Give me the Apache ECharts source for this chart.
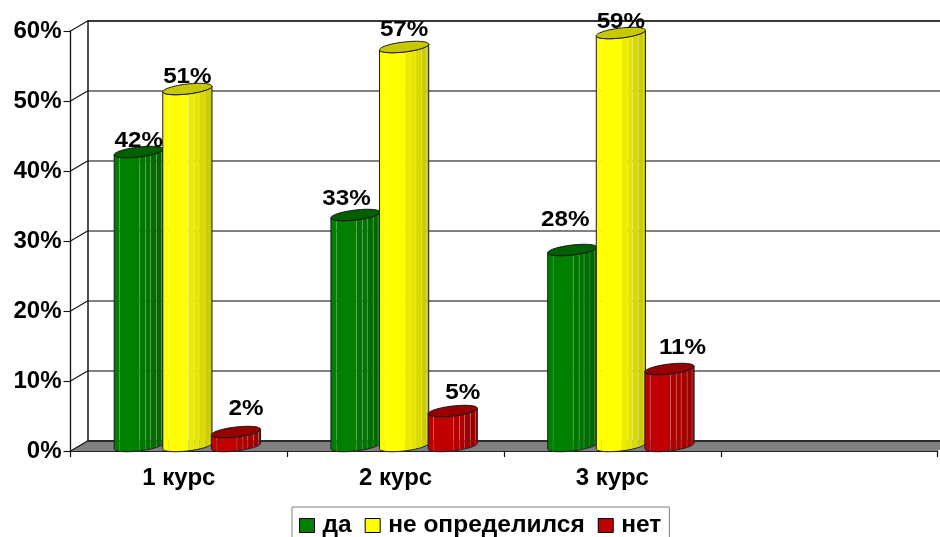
<!DOCTYPE html>
<html>
<head>
<meta charset="utf-8">
<script src="https://cdn.jsdelivr.net/npm/echarts@6/dist/echarts.min.js"></script>
<style>html,body{margin:0;padding:0;background:#fff}#c{width:940px;height:537px}</style>
</head>
<body>
<div id="c"></div>
<script>
const categories = ['1 курс', '2 курс', '3 курс', ''];
const seriesNames = ['да', 'не определился', 'нет'];
const da = [42, 33, 28];
const neOpredelilsya = [51, 57, 59];
const net = [2, 5, 11];
const yTicks = [0, 10, 20, 30, 40, 50, 60];

// Presentation only (pixel nudges of the data labels, [dx, dy] from the bar top)
const labelNudge = [
  [[0, -11], [-9, -16], [-7, -30]],
  [[0, -12], [0, -17], [0, -11]],
  [[10, -23], [10, -18], [13, -21]]
];
const colors = ['#008000', '#ffff00', '#c00000'];
const tops = ['#006000', '#c8c800', '#960000'];
const FONT = '"Liberation Sans", Arial, sans-serif';
const DEPTH_X = 17, DEPTH_Y = 10;
const RX = 24.6, RY = 5, SHEAR = 2.8, STEP = 48.6;
const facetEdges = [0, .11, .52, .64, .74, .86, .96, 1];
const facetShade = [1, 1, .92, .9, .85, .8, .76];

function shade(hex, k) {
  const n = parseInt(hex.slice(1), 16);
  const c = [n >> 16, (n >> 8) & 255, n & 255].map(v => Math.round(v * k));
  return 'rgb(' + c.join(',') + ')';
}
function ell(cx, cy, t) {
  const ct = Math.cos(t);
  return [cx + RX * ct, cy + RY * Math.sin(t) - SHEAR * ct];
}
function cylinderItem(idx) {
  return function (params, api) {
    const cat = api.value(0), val = api.value(1);
    const base = api.coord([cat, 0]);
    const top = api.coord([cat, val]);
    const cx = base[0] + DEPTH_X / 2 + (idx - 1) * STEP;
    const by = base[1] - DEPTH_Y / 2, ty = top[1] - DEPTH_Y / 2;
    const kids = [];
    const col = colors[idx];
    for (let f = 0; f < facetShade.length; f++) {
      const a0 = Math.acos(1 - 2 * facetEdges[f]);
      const a1 = Math.acos(1 - 2 * facetEdges[f + 1]);
      const pts = [];
      for (let s = 0; s <= 6; s++) {
        const a = a0 + (a1 - a0) * s / 6;
        pts.push(ell(cx, by, Math.PI - a));
      }
      for (let s = 6; s >= 0; s--) {
        const a = a0 + (a1 - a0) * s / 6;
        pts.push(ell(cx, ty, Math.PI - a));
      }
      kids.push({
        type: 'polygon', shape: { points: pts },
        style: { fill: shade(col, facetShade[f]), stroke: f ? 'rgba(255,255,255,.16)' : null, lineWidth: .8 }
      });
    }
    const outline = [];
    for (let s = 0; s <= 40; s++) outline.push(ell(cx, by, Math.PI - Math.PI * s / 40));
    for (let s = 40; s >= 0; s--) outline.push(ell(cx, ty, Math.PI - Math.PI * s / 40));
    kids.push({
      type: 'polygon', shape: { points: outline },
      style: { fill: 'none', stroke: '#1a1a1a', lineWidth: 1 }
    });
    const cap = [];
    for (let s = 0; s < 60; s++) cap.push(ell(cx, ty, 2 * Math.PI * s / 60));
    kids.push({
      type: 'polygon', shape: { points: cap },
      style: { fill: tops[idx], stroke: '#1a1a1a', lineWidth: 1 }
    });
    return { type: 'group', children: kids };
  };
}
function labelItem(idx) {
  return function (params, api) {
    const cat = api.value(0), val = api.value(1);
    const base = api.coord([cat, 0]);
    const top = api.coord([cat, val]);
    const n = labelNudge[idx][params.dataIndex];
    return {
      type: 'text',
      x: base[0] + DEPTH_X / 2 + (idx - 1) * STEP + n[0],
      y: top[1] - DEPTH_Y / 2 + n[1],
      scaleX: 1.1,
      style: {
        text: val + '%', font: 'bold 22px ' + FONT, fill: '#000',
        textAlign: 'center', textVerticalAlign: 'middle'
      }
    };
  };
}
function frameItem(params, api) {
  const cs = params.coordSys;
  const L = cs.x, T = cs.y, R = cs.x + cs.width, B = cs.y + cs.height;
  const kids = [
    { type: 'polygon', shape: { points: [[L, B], [L + DEPTH_X, B - DEPTH_Y], [R + DEPTH_X, B - DEPTH_Y], [R, B]] },
      style: { fill: '#808080' } },
    { type: 'line', shape: { x1: L + DEPTH_X, y1: B - DEPTH_Y, x2: R + DEPTH_X, y2: B - DEPTH_Y },
      style: { stroke: '#111', lineWidth: 1.6 } },
    { type: 'line', shape: { x1: L + DEPTH_X, y1: T - DEPTH_Y, x2: R + DEPTH_X, y2: T - DEPTH_Y },
      style: { stroke: '#222', lineWidth: 1.6 } }
  ];
  yTicks.forEach(v => {
    const p = api.coord([0, v]);
    kids.push({ type: 'line', shape: { x1: L, y1: p[1], x2: L + DEPTH_X, y2: p[1] - DEPTH_Y },
      style: { stroke: '#111', lineWidth: 1.1 } });
  });
  return { type: 'group', children: kids };
}
const pairs = arr => arr.map((v, i) => [i, v]);
const groups = [da, neOpredelilsya, net];
const series = [{
  type: 'custom', name: 'frame', renderItem: frameItem, data: [[0, 0]],
  xAxisIndex: 0, yAxisIndex: 0, z: 1, silent: true, clip: false
}];
groups.forEach((g, i) => series.push({
  type: 'custom', name: seriesNames[i], renderItem: cylinderItem(i), data: pairs(g),
  itemStyle: { color: colors[i] }, xAxisIndex: 0, yAxisIndex: 0, z: 3 + i, clip: false,
  encode: { x: 0, y: 1 }
}));
groups.forEach((g, i) => series.push({
  type: 'custom', name: 'labels' + i, renderItem: labelItem(i), data: pairs(g),
  xAxisIndex: 0, yAxisIndex: 0, z: 10, clip: false, encode: { x: 0, y: 1 }
}));

const chart = echarts.init(document.getElementById('c'), null, { renderer: 'canvas' });
chart.setOption({
  animation: false,
  backgroundColor: '#fff',
  grid: [
    { left: 70.5, top: 31, width: 867, height: 420, containLabel: false },
    { left: 87.5, top: 21, width: 860, height: 420, containLabel: false }
  ],
  xAxis: [
    { type: 'category', gridIndex: 0, data: categories,
      axisLine: { lineStyle: { color: '#222', width: 1.2 } },
      axisTick: { show: true, length: 6, lineStyle: { color: '#111', width: 1.2 } },
      axisLabel: { interval: 0, margin: 15, color: '#000', fontFamily: FONT, fontWeight: 'bold', fontSize: 24 },
      splitLine: { show: false } },
    { type: 'category', gridIndex: 1, data: categories, show: false }
  ],
  yAxis: [
    { type: 'value', gridIndex: 0, min: 0, max: 60, interval: 10,
      axisLine: { show: true, lineStyle: { color: '#111', width: 1.3 } },
      axisTick: { show: true, length: 7, lineStyle: { color: '#111', width: 1.1 } },
      axisLabel: { formatter: '{value}%', margin: 9, color: '#000', fontFamily: FONT, fontWeight: 'bold', fontSize: 24, padding: [2, 0, 0, 0] },
      splitLine: { show: false } },
    { type: 'value', gridIndex: 1, min: 0, max: 60, interval: 10,
      axisLine: { show: true, lineStyle: { color: '#222', width: 1.6 } },
      axisTick: { show: false }, axisLabel: { show: false },
      splitLine: { show: true, lineStyle: { color: '#808080', width: 2 } } }
  ],
  legend: {
    data: seriesNames, left: 292, top: 507, orient: 'horizontal', selectedMode: false,
    padding: [6, 8, 30, 7], itemGap: 13, itemWidth: 15, itemHeight: 14, icon: 'rect',
    borderColor: '#808080', borderWidth: 1, backgroundColor: '#fff',
    itemStyle: { borderColor: '#000', borderWidth: 1 },
    textStyle: { color: '#000', fontFamily: FONT, fontWeight: 'bold', fontSize: 24.5, padding: [2, 0, 0, 3], lineHeight: 14 }
  },
  series
});
</script>
</body>
</html>
